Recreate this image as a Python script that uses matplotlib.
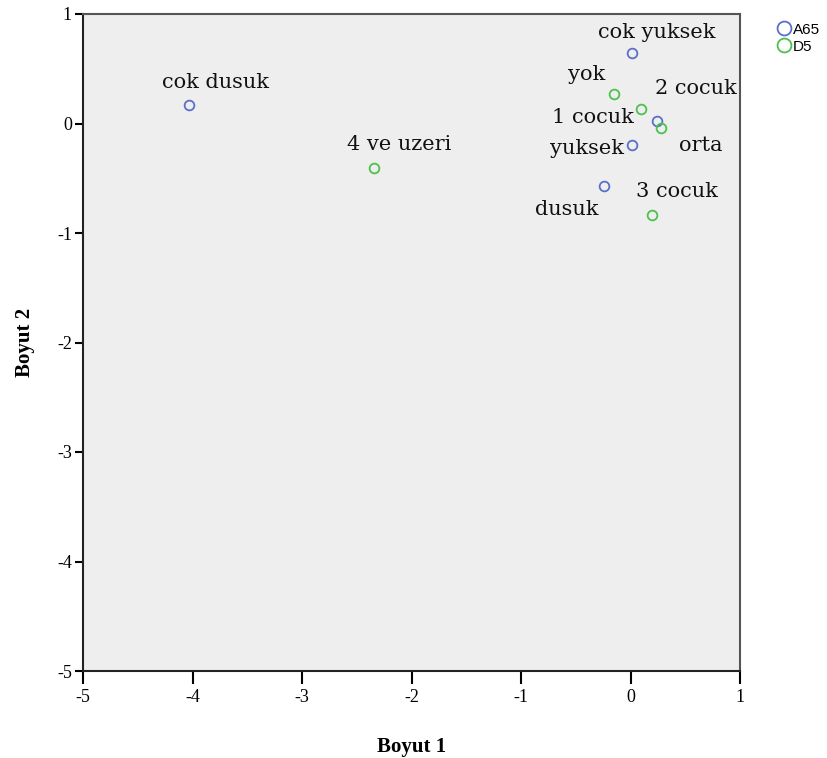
import matplotlib
matplotlib.use('Agg')
import matplotlib.pyplot as plt
from matplotlib.lines import Line2D

plt.rcParams['axes.unicode_minus'] = False

# A65 category points
a65_labels = ['cok dusuk', 'dusuk', 'orta', 'yuksek', 'cok yuksek']
a65_x = [-4.03, -0.24, 0.24, 0.01, 0.01]
a65_y = [0.17, -0.57, 0.02, -0.20, 0.64]

# D5 category points
d5_labels = ['yok', '1 cocuk', '2 cocuk', '3 cocuk', '4 ve uzeri']
d5_x = [-0.15, 0.10, 0.28, 0.20, -2.34]
d5_y = [0.27, 0.13, -0.04, -0.84, -0.41]

ticks = [-5, -4, -3, -2, -1, 0, 1]

# label offsets in pixels (layout only)
offsets = {
    'cok dusuk': (26, 22), 'dusuk': (-37, -24), 'orta': (44, -24),
    'yuksek': (-45, -3), 'cok yuksek': (25, 21),
    'yok': (-27, 19), '1 cocuk': (-49, -8), '2 cocuk': (35, 39),
    '3 cocuk': (25, 24), '4 ve uzeri': (25, 24),
}

blue = '#5a6fcb'
green = '#4cc14c'

fig = plt.figure(figsize=(8.27, 7.58), dpi=100)
ax = fig.add_axes([83 / 827, 1 - 671 / 758, 657 / 827, 657 / 758])
ax.set_facecolor('#eeeeee')

ax.plot(a65_x, a65_y, 'o', mfc='none', mec=blue, ms=7, mew=1.3, zorder=3)
ax.plot(d5_x, d5_y, 'o', mfc='none', mec=green, ms=7, mew=1.3, zorder=3)

for labels, xs, ys in [(a65_labels, a65_x, a65_y), (d5_labels, d5_x, d5_y)]:
    for lab, x, y in zip(labels, xs, ys):
        ax.annotate(lab, (x, y), xytext=offsets[lab], textcoords='offset pixels',
                    ha='center', va='center', fontsize=15, family='DejaVu Serif',
                    color='#111111')

ax.set_xlim(-5, 1)
ax.set_ylim(-5, 1)
ax.set_xticks(ticks)
ax.set_yticks(ticks)
ax.tick_params(axis='x', direction='out', length=9, width=1.5, labelsize=13, pad=4)
ax.tick_params(axis='y', direction='out', length=6, width=1.5, labelsize=13, pad=2)
for lbl in ax.get_xticklabels() + ax.get_yticklabels():
    lbl.set_family('Liberation Serif')

for side in ['left', 'bottom']:
    ax.spines[side].set_color('#222222')
    ax.spines[side].set_linewidth(1.5)
for side in ['top', 'right']:
    ax.spines[side].set_color('#555555')
    ax.spines[side].set_linewidth(1.5)

ax.set_xlabel('Boyut 1', fontsize=15, fontweight='bold', family='Liberation Serif', labelpad=22)
ax.set_ylabel('Boyut 2', fontsize=15, fontweight='bold', family='Liberation Serif', labelpad=16)

handles = [Line2D([], [], marker='o', ls='none', mfc='none', mec=blue, ms=10, mew=1.3),
           Line2D([], [], marker='o', ls='none', mfc='none', mec=green, ms=10, mew=1.3)]
fig.legend(handles, ['A65', 'D5'], loc='upper left', bbox_to_anchor=(764 / 827, 1 - 12 / 758),
           frameon=False, prop={'family': 'Liberation Sans', 'size': 11},
           handletextpad=0.0, labelspacing=0.2, borderpad=0.2, handlelength=1.2)

fig.savefig('out.png', dpi=100)
